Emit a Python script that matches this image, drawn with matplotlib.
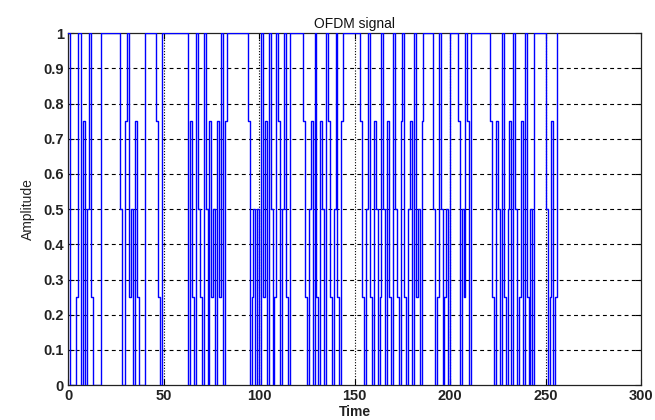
import matplotlib
matplotlib.use("Agg")
import matplotlib.pyplot as plt
import numpy as np

# Time samples 0..256 and amplitude per sample (step plot)
time = list(range(0, 257))

amp = [1.0] * 257
segments = {
    0: [1, 0, 0, 0, 0.25, 1, 1, 0, 0.75, 0, 0.5, 1, 0.25, 0, 0, 0, 0, 1],
    27: [0.5, 0, 0, 0.75, 1, 0.25, 0.5, 0, 0.75, 0.25, 0, 0, 0, 1],
    46: [0.75, 0.25, 0, 1],
    63: [0, 0.75, 0.25, 0, 1, 0.5, 0.25, 0, 1, 0.5, 0, 0.75, 0.25, 0.5, 0, 0.75,
         0.25, 1, 0, 0.75, 1],
    94: [0.75, 0, 0.25, 0.5, 0, 0.5, 0, 1, 0.25, 0.75, 0, 1, 0.5, 0, 0.25, 1,
         0.75, 0, 0.5, 1, 0.25, 0, 1],
    123: [0.75, 0.25, 0, 0.5, 0.75, 0, 1, 0.25, 0, 0.75, 0.5, 0, 1, 0.75, 0.25,
          0, 0.5, 1, 0.25, 0, 0.75, 1],
    153: [0.75, 0.25, 0, 0.5, 1, 0.25, 0, 0.75, 0.5, 0, 0.25, 1, 0.5, 0, 0.75,
          0.25, 0, 1, 0.5, 0.25, 0, 0.75, 1, 0.25, 0, 0.5, 0.75, 0, 1, 0.25, 0.5,
          0, 0.75, 1],
    191: [0.5, 0, 0.25, 1, 0.5, 0, 0.25, 0.5, 0, 1, 1, 1, 1, 0.75, 0, 0.5, 0.25,
          1, 0.75, 0, 1],
    221: [0.75, 0.25, 0, 0.75, 0.5, 0, 1, 0.25, 0, 0.5, 0.75, 0, 1, 0.5, 0, 0.25,
          0.75, 0, 1, 0.25, 0, 0.5, 0, 1],
    250: [0.5, 0, 0.25, 0.75, 0, 0.25, 1],
}
for start, vals in segments.items():
    for i, v in enumerate(vals):
        amp[start + i] = v

xticks = [0, 50, 100, 150, 200, 250, 300]
yticks = [0, 0.1, 0.2, 0.3, 0.4, 0.5, 0.6, 0.7, 0.8, 0.9, 1]
ytick_labels = ["0", "0.1", "0.2", "0.3", "0.4", "0.5", "0.6", "0.7", "0.8", "0.9", "1"]

plt.rcParams['font.family'] = ['Liberation Sans', 'DejaVu Sans']

fig = plt.figure(figsize=(6.55, 4.2), dpi=100)
ax = fig.add_axes([0.104, 0.083, 0.875, 0.838])

ax.plot(time, amp, drawstyle='steps-post', color=(0, 0, 1), lw=1.0, zorder=3)

ax.set_xlim(0, 300)
ax.set_ylim(0, 1)
ax.set_xticks(xticks)
ax.set_xticklabels([str(v) for v in xticks])
ax.set_yticks(yticks)
ax.set_yticklabels(ytick_labels)

for y in yticks[1:-1]:
    ax.axhline(y, color='black', lw=0.8, ls=(0, (3.5, 3)), zorder=1)
for x in xticks[1:-1]:
    ax.axvline(x, color='black', lw=0.8, ls=(0, (1, 1.5)), zorder=1)

ax.tick_params(direction='in', top=True, right=True, length=4, width=0.8,
               labelsize=10.5, pad=3)
for lab in ax.get_xticklabels() + ax.get_yticklabels():
    lab.set_fontweight('bold')
    lab.set_color('#222222')
for s in ax.spines.values():
    s.set_linewidth(0.9)
    s.set_color('#222222')

ax.set_title("OFDM signal", fontsize=10, pad=4, color='#111111')
ax.set_xlabel("Time", fontsize=10, labelpad=1, fontweight='bold', color='#222222')
ax.set_ylabel("Amplitude", fontsize=10, labelpad=6, color='#222222')

fig.savefig("out.png", dpi=100)
